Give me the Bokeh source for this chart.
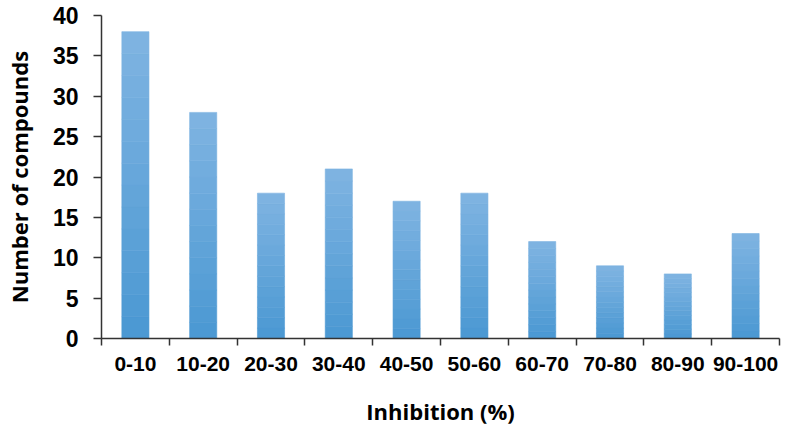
from bokeh.plotting import figure
from bokeh.models import Range1d, FixedTicker
from bokeh.embed import file_html
from bokeh.resources import INLINE

categories = ["0-10", "10-20", "20-30", "30-40", "40-50",
              "50-60", "60-70", "70-80", "80-90", "90-100"]
counts = [38, 28, 18, 21, 17, 18, 12, 9, 8, 13]
y_ticks = [0, 5, 10, 15, 20, 25, 30, 35, 40]

x_centers = [i + 0.5 for i in range(len(categories))]
x_bounds = list(range(len(categories) + 1))

p = figure(frame_width=678, frame_height=323, output_backend="svg", toolbar_location=None,
           x_range=Range1d(0, len(categories)), y_range=Range1d(0, 40),
           min_border_left=101, min_border_right=2, min_border_top=15,
           min_border_bottom=10)
p.outline_line_color = None
p.grid.grid_line_color = None
p.background_fill_color = "white"

# gradient-like fill: stacked bands from dark (bottom) to light (top)
n_bands = 14
c0 = (74, 152, 210)
c1 = (128, 180, 226)
for k in range(n_bands):
    t = (k + 0.5) / n_bands
    col = "#%02x%02x%02x" % tuple(int(round(a + (b - a) * t)) for a, b in zip(c0, c1))
    bottoms = [v * k / n_bands for v in counts]
    tops = [v * (k + 1) / n_bands for v in counts]
    p.vbar(x=x_centers, bottom=bottoms, top=tops, width=0.4,
           fill_color=col, line_color=col, line_width=0.6)

font = "Liberation Sans"
title_font = "Open Sans"

xa = p.xaxis[0]
xa.ticker = FixedTicker(ticks=x_centers, minor_ticks=x_bounds)
xa.major_label_overrides = {c: lab for c, lab in zip(x_centers, categories)}
xa.major_tick_out = 0
xa.major_tick_in = 0
xa.minor_tick_out = 7
xa.minor_tick_in = 0
xa.minor_tick_line_color = "#333333"
xa.minor_tick_line_width = 1.5
xa.axis_line_color = "#333333"
xa.axis_line_width = 1.5
xa.major_label_text_font = font
xa.major_label_text_font_style = "bold"
xa.major_label_text_font_size = "21px"
xa.major_label_text_color = "black"
xa.major_label_standoff = 11
xa.axis_label = "Inhibition (%)"
xa.axis_label_text_font = title_font
xa.axis_label_text_font_style = "bold"
xa.axis_label_text_font_size = "22px"
xa.axis_label_text_color = "black"
xa.axis_label_standoff = 22

ya = p.yaxis[0]
ya.ticker = FixedTicker(ticks=y_ticks)
ya.minor_tick_line_color = None
ya.major_tick_out = 8
ya.major_tick_in = 0
ya.major_tick_line_color = "#333333"
ya.major_tick_line_width = 1.5
ya.axis_line_color = "#333333"
ya.axis_line_width = 1.5
ya.major_label_text_font = font
ya.major_label_text_font_style = "bold"
ya.major_label_text_font_size = "23px"
ya.major_label_text_color = "black"
ya.major_label_standoff = 15
ya.axis_label = "Number of compounds"
ya.axis_label_text_font = title_font
ya.axis_label_text_font_style = "bold"
ya.axis_label_text_font_size = "22px"
ya.axis_label_text_color = "black"
ya.axis_label_standoff = 16

open("out.html", "w").write(file_html(p, INLINE))
